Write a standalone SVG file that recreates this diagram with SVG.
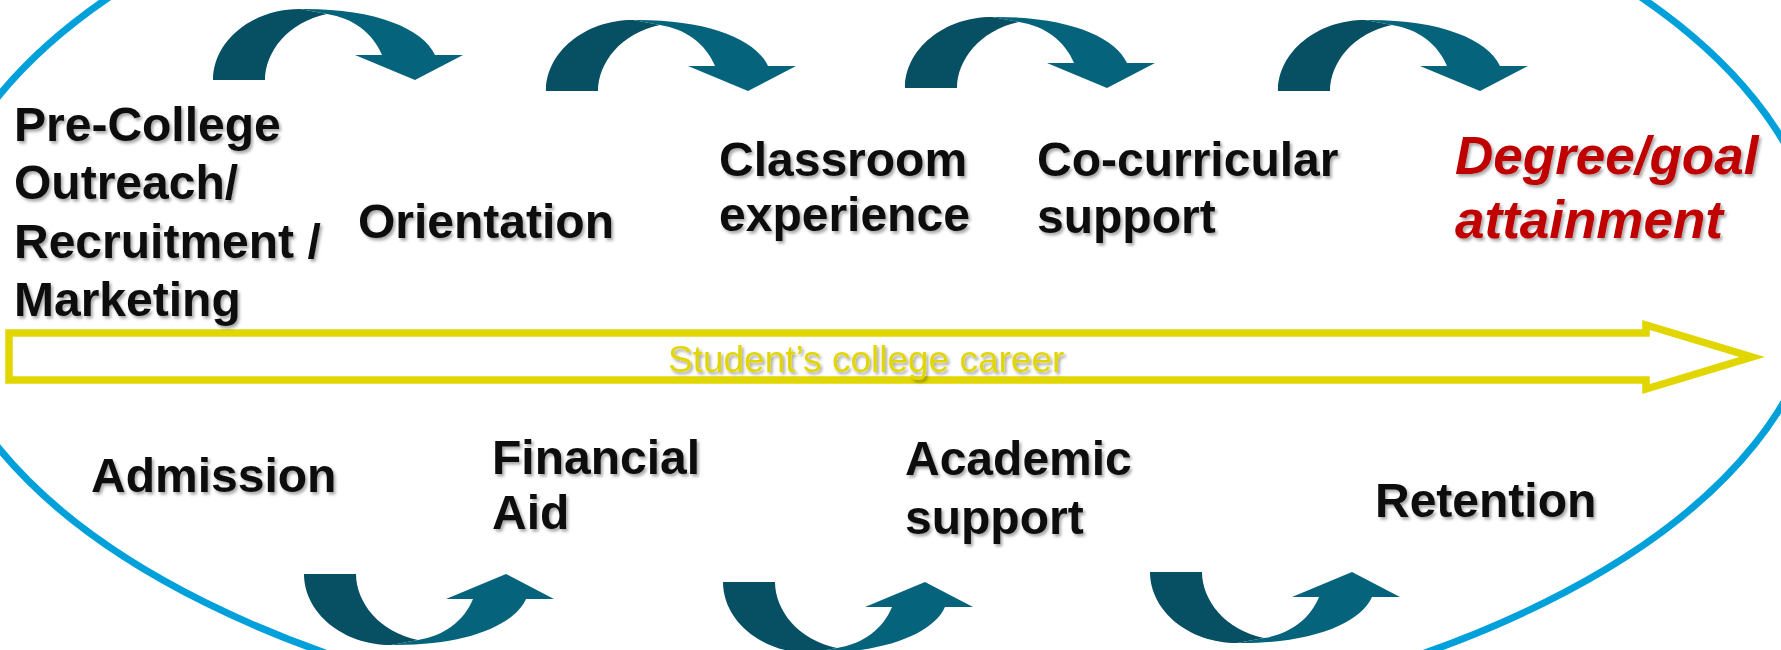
<svg xmlns="http://www.w3.org/2000/svg" xmlns:xlink="http://www.w3.org/1999/xlink" width="1781" height="650" viewBox="0 0 1781 650">
  <style>
    .lbl { font-family: "Liberation Sans", Arial, sans-serif; font-weight: bold; font-size: 48px; fill: #111111; filter: url(#shadow); }
    .goal { fill: #C00000; font-style: italic; font-size: 53px; }
    .track { font-family: "Liberation Sans", Arial, sans-serif; font-size: 37px; fill: #E1D600; filter: url(#shadow); }
    .dk { fill: #074F63; }
    .lt { fill: #05647B; }
  </style>
  <defs>
    <filter id="shadow" x="-10%" y="-20%" width="130%" height="160%">
      <feDropShadow dx="2" dy="2.5" stdDeviation="1.6" flood-color="#000000" flood-opacity="0.35"/>
    </filter>
    <!-- curved step arrow: dark back leg, lighter front band with head -->
    <g id="curve">
      <path class="dk" d="M 0 0 C 0 -39 39 -71 87 -71 L 114 -66 C 75 -58 52 -28 52 0 Z"/>
      <path class="lt" d="M 87 -71 C 160 -72 210 -52 222 -25 L 250 -25 L 202 0 L 142 -25 L 169 -25 C 160 -47 140 -62 114 -66 Z"/>
    </g>
  </defs>

  <rect width="1781" height="650" fill="#FFFFFF"/>

  <!-- outer ring -->
  <ellipse cx="875" cy="272" rx="946" ry="468" fill="none" stroke="#00A0DA" stroke-width="7"/>

  <!-- timeline arrow -->
  <g id="timeline">
    <path d="M 9 333 H 1646 V 325 L 1752 357 L 1646 389 V 380 H 9 Z" fill="none" stroke="#E1D600" stroke-width="7.5" stroke-linejoin="miter"/>
    <text class="track" x="668" y="372">Student’s college career</text>
  </g>

  <!-- step arrows between stages -->
  <g id="connectors">
    <use xlink:href="#curve" transform="translate(213,80)"/>
    <use xlink:href="#curve" transform="translate(546,91)"/>
    <use xlink:href="#curve" transform="translate(905,88)"/>
    <use xlink:href="#curve" transform="translate(1278,91)"/>
    <use xlink:href="#curve" transform="translate(304,574) scale(1,-1)"/>
    <use xlink:href="#curve" transform="translate(723,582) scale(1,-1)"/>
    <use xlink:href="#curve" transform="translate(1150,572) scale(1,-1)"/>
  </g>

  <!-- stages above the timeline -->
  <g id="pre-college">
    <text class="lbl" x="14" y="141">Pre-College</text>
    <text class="lbl" x="14" y="199">Outreach/</text>
    <text class="lbl" x="14" y="258">Recruitment /</text>
    <text class="lbl" x="14" y="316">Marketing</text>
  </g>
  <g id="orientation">
    <text class="lbl" x="358" y="238">Orientation</text>
  </g>
  <g id="classroom">
    <text class="lbl" x="719" y="176">Classroom</text>
    <text class="lbl" x="719" y="231">experience</text>
  </g>
  <g id="co-curricular">
    <text class="lbl" x="1037" y="176">Co-curricular</text>
    <text class="lbl" x="1037" y="233">support</text>
  </g>
  <g id="degree">
    <text class="lbl goal" x="1455" y="174">Degree/goal</text>
    <text class="lbl goal" x="1455" y="238">attainment</text>
  </g>

  <!-- stages below the timeline -->
  <g id="admission">
    <text class="lbl" x="91" y="492">Admission</text>
  </g>
  <g id="financial-aid">
    <text class="lbl" x="492" y="474">Financial</text>
    <text class="lbl" x="492" y="529">Aid</text>
  </g>
  <g id="academic-support">
    <text class="lbl" x="905" y="475">Academic</text>
    <text class="lbl" x="905" y="534">support</text>
  </g>
  <g id="retention">
    <text class="lbl" x="1375" y="517">Retention</text>
  </g>
</svg>
